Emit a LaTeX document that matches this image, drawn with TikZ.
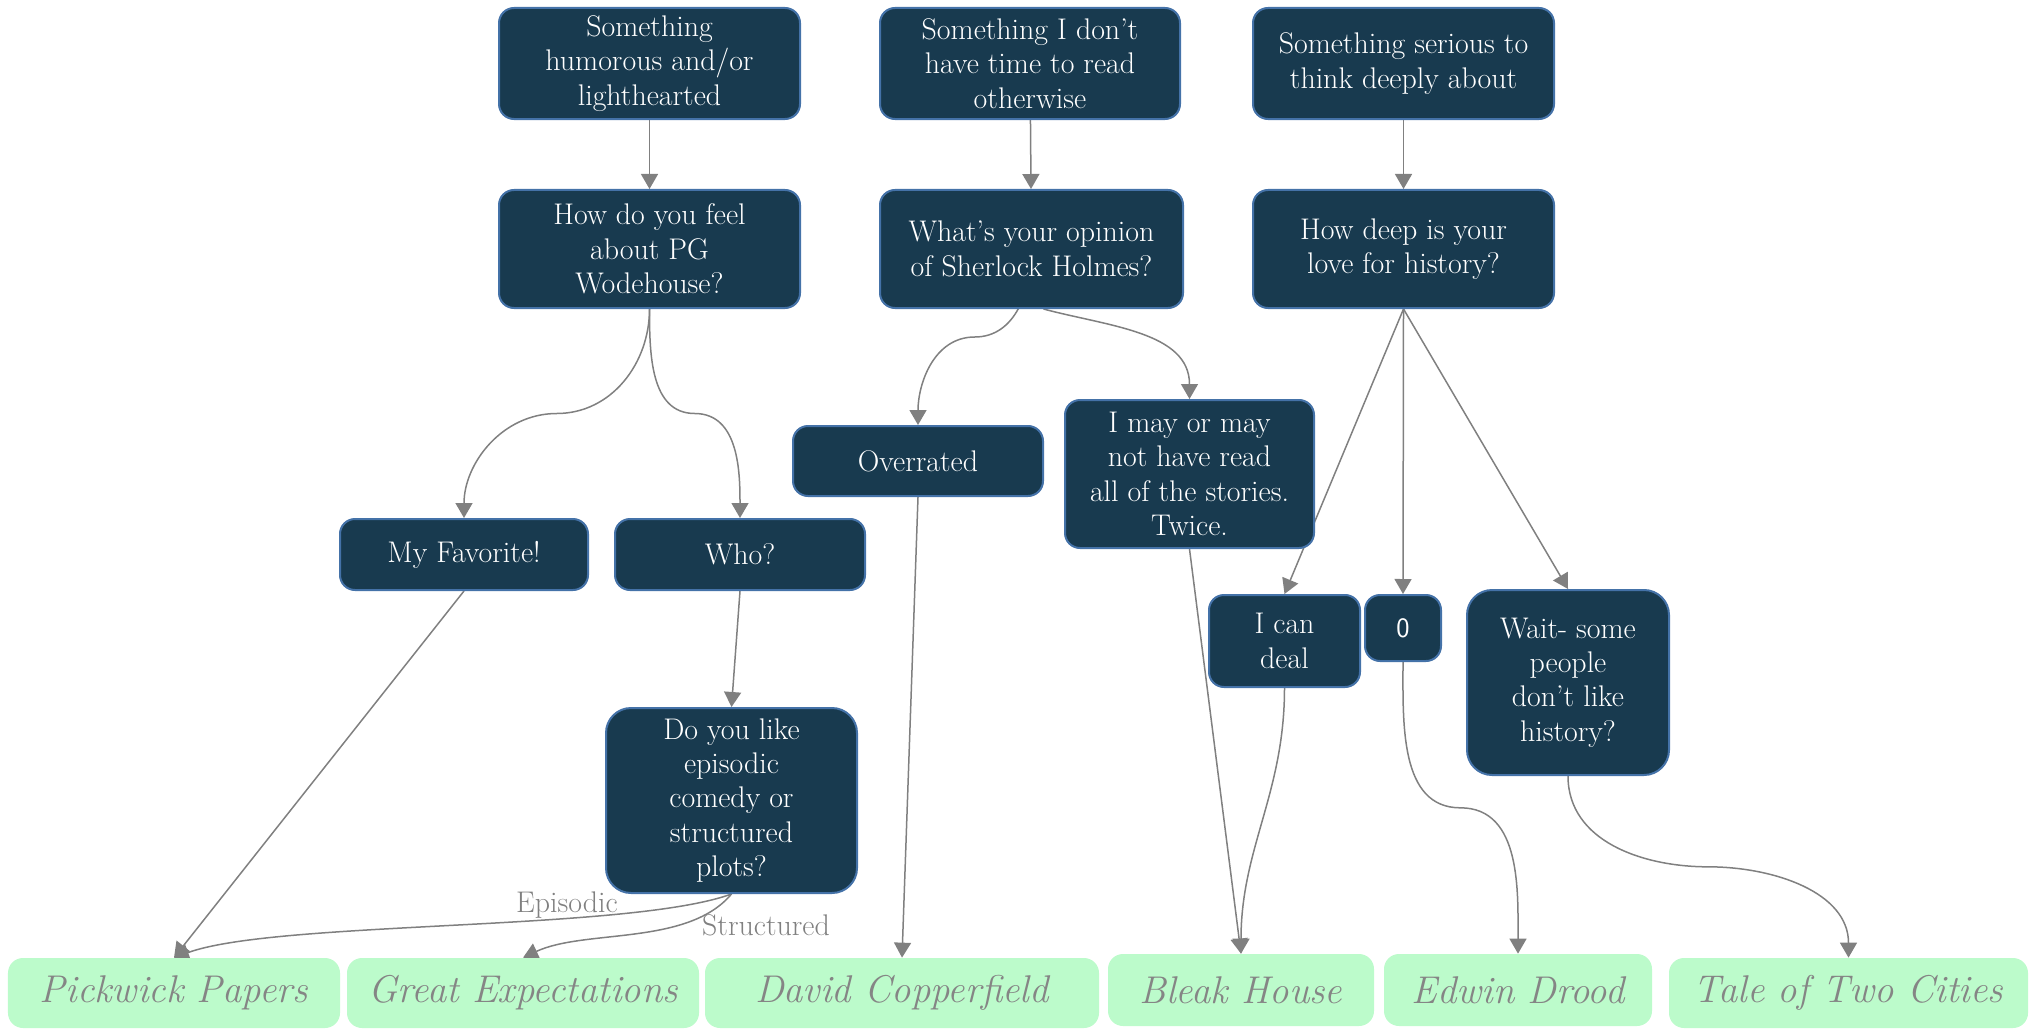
\documentclass[tikz,border=0pt]{standalone}
\usepackage{tikz}
\usetikzlibrary{arrows.meta,calc,backgrounds}

\definecolor{boxfill}{HTML}{183A4F}
\definecolor{boxline}{HTML}{4472A8}
\definecolor{bookfill}{HTML}{BCFBCB}
\definecolor{bookgray}{HTML}{858585}
\definecolor{linkgray}{HTML}{808080}

\begin{document}
\begin{tikzpicture}[x=0.2mm,y=-0.2mm,
  qbox/.style={draw=boxline,fill=boxfill,text=white,line width=0.4mm,rounded corners=3mm,
    align=center,inner sep=2pt,font=\fontsize{17}{19.5}\selectfont},
  book/.style={fill=bookfill,text=bookgray,rounded corners=3mm,inner sep=2pt,
    font=\fontsize{22}{26}\selectfont\itshape},
  link/.style={draw=linkgray,line width=0.3mm,-{Triangle[length=3mm,width=3.4mm]}},
  lbl/.style={text=linkgray,font=\fontsize{17}{19.5}\selectfont}]
\useasboundingbox (0,0) rectangle (2036,1029);

% starting points
\node [qbox,minimum width=60.2mm,minimum height=22.2mm] (s1) at (649.5,63.5) {Something\\humorous and/or\\lighthearted};
\node [qbox,minimum width=60mm,minimum height=22.2mm] (s2) at (1030,63.5) {Something I don't\\have time to read\\otherwise};
\node [qbox,minimum width=60.2mm,minimum height=22.2mm] (s3) at (1403.5,63.5) {Something serious to\\think deeply about};

% questions
\node [qbox,minimum width=60.2mm,minimum height=23.6mm] (q1) at (649.5,249) {How do you feel\\about PG\\Wodehouse?};
\node [qbox,minimum width=60.6mm,minimum height=23.6mm] (q2) at (1031.5,249) {What's your opinion\\of Sherlock Holmes?};
\node [qbox,minimum width=60.2mm,minimum height=23.6mm] (q3) at (1403.5,249) {How deep is your\\love for history?};

% answers
\node [qbox,minimum width=49.6mm,minimum height=14.2mm] (fav) at (464,554.5) {My Favorite!};
\node [qbox,minimum width=50mm,minimum height=14.2mm] (who) at (740,554.5) {Who?};
\node [qbox,minimum width=50mm,minimum height=14mm] (over) at (918,461) {Overrated};
\node [qbox,minimum width=49.8mm,minimum height=29.6mm] (may) at (1189.5,474) {I may or may\\not have read\\all of the stories.\\Twice.};
\node [qbox,minimum width=30.2mm,minimum height=18.4mm] (deal) at (1284.5,641) {I can\\deal};
\node [qbox,minimum width=15.2mm,minimum height=13.2mm,font=\fontsize{16}{19}\sffamily] (zero) at (1403,628) {0};
\node [qbox,rounded corners=5mm,minimum width=40.4mm,minimum height=37mm] (wait) at (1568,682.5) {Wait- some\\people\\don't like\\history?};
\node [qbox,rounded corners=5mm,minimum width=50.2mm,minimum height=37mm] (like) at (731.5,800.5) {Do you like\\episodic\\comedy or\\structured\\plots?};

% books
\node [book,minimum width=66.4mm,minimum height=14mm] (pick) at (174,993) {Pickwick Papers};
\node [book,minimum width=70.4mm,minimum height=14mm] (great) at (523,993) {Great Expectations};
\node [book,minimum width=78.8mm,minimum height=14mm] (david) at (902,993) {David Copperfield};
\node [book,minimum width=53.2mm,minimum height=14.4mm] (bleak) at (1241,990) {Bleak House};
\node [book,minimum width=53.6mm,minimum height=14.4mm] (edwin) at (1518,990) {Edwin Drood};
\node [book,minimum width=71.8mm,minimum height=14mm] (tale) at (1848.5,993) {Tale of Two Cities};

\node [lbl] (epi) at (567,905) {Episodic};
\node [lbl] (str) at (766,925) {Structured};

\begin{scope}[on background layer]
\draw [link] (s1) -- (q1);
\draw [link] (s2) -- (q2);
\draw [link] (s3) -- (q3);

\draw [link] (q1.south) to[out=-90,in=0] ($(q1.south)!.5!(fav.north)$) to[out=180,in=90] (fav.north);
\draw [link] (q1.south) to[out=-90,in=180] ($(q1.south)!.5!(who.north)$) to[out=0,in=90] (who.north);
\draw [link] (q2.center) to[out=-90,in=0] ($(q2.center)!.5!(over.north)$) to[out=180,in=90] (over.north);
\draw [link] ([xshift=2.4mm]q2.south) to[out=-15,in=90] (may.north);

\draw [link] (q3.south) -- (deal.north);
\draw [link] (q3.south) -- (zero.north);
\draw [link] (q3.south) -- (wait.north);

\draw [link] (fav.south) -- (pick.north);
\draw [link] (who.south) -- (like.north);
\draw [link] (over.south) -- (david.north);
\draw [link] (may.south) -- (bleak.north);

\draw [link] (like.south) to[out=-160,in=20,looseness=.5] (pick.north);
\draw [link] (like.south) to[out=-130,in=25,looseness=.8] (great.north);

\draw [link] (deal.south) to[out=-90,in=90] (bleak.north);
\draw [link] (zero.south) to[out=-90,in=180] ($(zero.south)!.5!(edwin.north)$) to[out=0,in=90] (edwin.north);
\draw [link] (wait.south) to[out=-90,in=180] ($(wait.south)!.5!(tale.north)$) to[out=0,in=90] (tale.north);
\end{scope}
\end{tikzpicture}
\end{document}
